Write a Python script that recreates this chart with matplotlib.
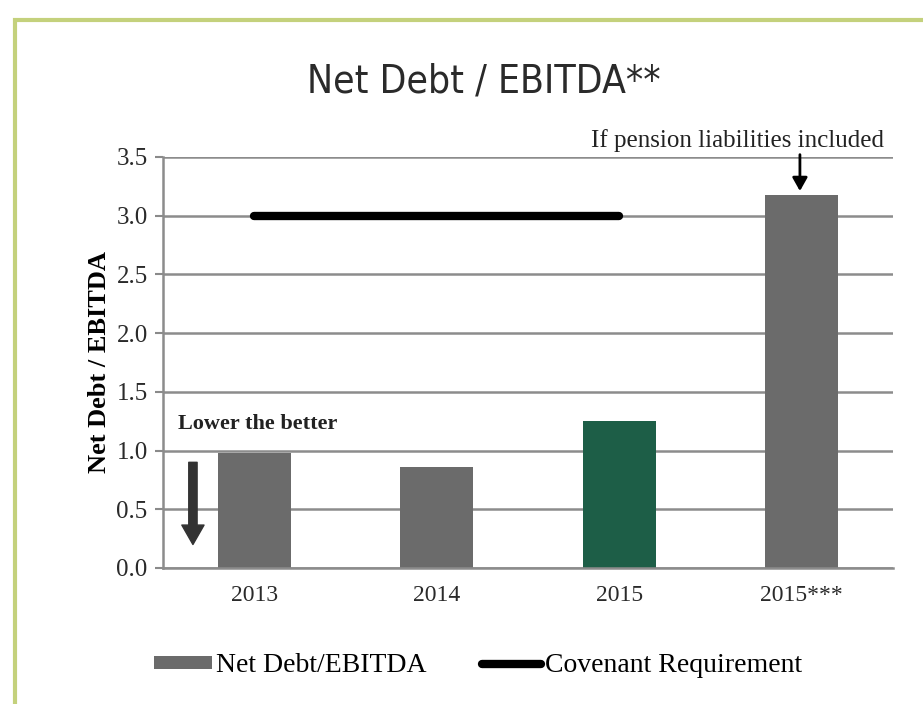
import matplotlib.pyplot as plt
from matplotlib.lines import Line2D
from matplotlib.patches import Patch, Rectangle

# ratios per year
years = ['2013', '2014', '2015', '2015***']
ratios = [0.98, 0.86, 1.25, 3.18]
bar_colors = ['#6b6b6b', '#6b6b6b', '#1d5e47', '#6b6b6b']
covenant = [3.0, 3.0, 3.0]  # drawn for 2013-2015

serif = ['Liberation Serif', 'DejaVu Serif']

fig = plt.figure(figsize=(9.23, 7.04), dpi=100)
fig.patch.set_facecolor('white')

# green frame round the whole chart
fig.add_artist(Rectangle((15 / 923, -0.05), 1.2, 1 - 20 / 704 + 0.05,
                         transform=fig.transFigure, fill=False,
                         edgecolor='#c4d17c', linewidth=3))

ax = fig.add_axes([163 / 923, 136 / 704, 730 / 923, 411 / 704])
x = list(range(len(years)))
ax.bar(x, ratios, width=0.4, color=bar_colors, zorder=2)
ax.plot(x[:len(covenant)], covenant, color='black', linewidth=6,
        solid_capstyle='round', zorder=3)

ax.set_xlim(-0.5, len(years) - 0.5)
ax.set_ylim(0, 3.5)
ax.set_yticks([0, 0.5, 1.0, 1.5, 2.0, 2.5, 3.0, 3.5])
ax.set_yticklabels(['%.1f' % v for v in ax.get_yticks()], fontfamily=serif,
                   fontsize=18, color='#2a2a2a')
ax.set_xticks(x)
ax.set_xticklabels(years, fontfamily=serif, fontsize=17, color='#2a2a2a')
ax.tick_params(axis='x', length=0, pad=12)
ax.tick_params(axis='y', length=6, width=1.5, color='#8a8a8a', pad=5)
ax.yaxis.grid(True, color='#8c8c8c', linewidth=1.8, zorder=0)
ax.set_axisbelow(True)
for side in ['top', 'right']:
    ax.spines[side].set_visible(False)
for side in ['left', 'bottom']:
    ax.spines[side].set_color('#8c8c8c')
    ax.spines[side].set_linewidth(1.8)

ax.set_ylabel('Net Debt / EBITDA', fontfamily=serif, fontsize=19,
              fontweight='bold', labelpad=4)

fig.text(484 / 923, 1 - 82 / 704, 'Net Debt / EBITDA**',
         fontfamily=['DejaVu Sans'], fontstretch='condensed', fontsize=28,
         ha='center', va='center', color='#2a2a2a')

# "lower is better" hint
ax.text(-0.42, 1.23, 'Lower the better', fontfamily=serif, fontsize=16,
        fontweight='bold', ha='left', va='center', color='#222222')
ax.annotate('', xy=(-0.336, 0.2), xytext=(-0.336, 0.9),
            arrowprops=dict(arrowstyle='simple,head_width=1.6,head_length=1.4,tail_width=0.6',
                            color='#333333', shrinkA=0, shrinkB=0))

# pension note over the last bar
ax.text(3.45, 3.64, 'If pension liabilities included', fontfamily=serif,
        fontsize=18, ha='right', va='center', color='#222222', clip_on=False)
ax.annotate('', xy=(2.99, ratios[3] + 0.03), xytext=(2.99, 3.52),
            annotation_clip=False,
            arrowprops=dict(arrowstyle='-|>,head_width=0.45,head_length=0.8',
                            color='black', linewidth=2, shrinkA=0, shrinkB=0))

handles = [Patch(facecolor='#6b6b6b', label='Net Debt/EBITDA'),
           Line2D([0], [0], color='black', linewidth=6,
                  solid_capstyle='round', label='Covenant Requirement')]
fig.legend(handles=handles, loc='center', bbox_to_anchor=(478 / 923, 38 / 704),
           ncol=2, frameon=False, prop={'family': serif, 'size': 20},
           handlelength=2.1, handleheight=0.35, handletextpad=0.15,
           columnspacing=2.0)

fig.savefig('out.png', dpi=100)
